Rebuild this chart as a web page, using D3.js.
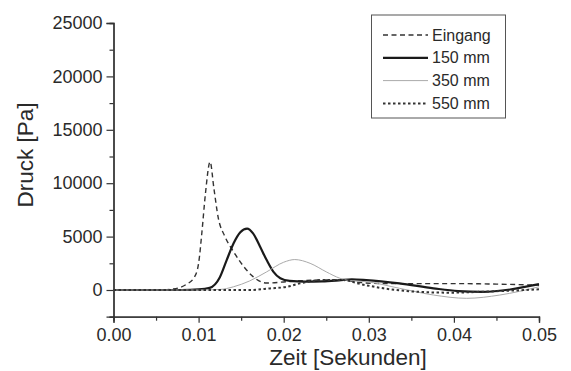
<!DOCTYPE html>
<html><head><meta charset="utf-8">
<script src="https://cdn.jsdelivr.net/npm/d3@7"></script>
<style>
html,body{margin:0;padding:0;background:#fff;}
svg{display:block;font-family:"Liberation Sans",Arial,sans-serif;}
</style></head>
<body><svg id="chart" width="571" height="371"></svg>
<script>
// ---- data ----
const xTicks = [0, 0.01, 0.02, 0.03, 0.04, 0.05];
const yTicks = [0, 5000, 10000, 15000, 20000, 25000];
const seriesNames = ["Eingang", "150 mm", "350 mm", "550 mm"];

const eingangT = [0, 0.005, 0.007, 0.0085, 0.0095, 0.0100, 0.0104, 0.0108, 0.01135, 0.0118, 0.0123, 0.0131, 0.0141, 0.0153, 0.0164, 0.018, 0.0204, 0.024, 0.0266, 0.029, 0.032, 0.036, 0.04, 0.045, 0.05];
const eingangP = [0, 0, 100, 500, 1200, 2500, 5500, 9000, 12000, 9500, 6800, 5000, 3600, 2200, 1250, 650, 780, 930, 930, 700, 600, 600, 600, 550, 450];

const mm150T = [0, 0.008, 0.010, 0.0113, 0.0125, 0.0133, 0.0141, 0.0149, 0.0157, 0.0164, 0.0172, 0.018, 0.0188, 0.0196, 0.0207, 0.0225, 0.0245, 0.0265, 0.028, 0.0297, 0.0336, 0.0376, 0.0405, 0.0434, 0.0466, 0.05];
const mm150P = [0, 0, 50, 200, 1200, 2800, 4350, 5400, 5750, 5300, 4100, 2800, 1700, 1100, 850, 780, 800, 900, 1000, 930, 620, 160, -100, -170, 50, 550];

const mm350T = [0, 0.010, 0.0125, 0.0141, 0.016, 0.018, 0.020, 0.0213, 0.0231, 0.025, 0.0266, 0.0278, 0.0297, 0.0336, 0.0376, 0.0415, 0.0454, 0.05];
const mm350P = [0, 0, 50, 300, 850, 1700, 2600, 2850, 2500, 1700, 1100, 870, 780, 160, -470, -780, -470, 300];

const mm550T = [0, 0.012, 0.016, 0.0184, 0.0204, 0.0219, 0.0246, 0.027, 0.029, 0.0317, 0.0356, 0.0395, 0.0434, 0.05];
const mm550P = [0, 0, 0, 150, 300, 620, 930, 930, 560, 160, -160, -250, -160, 60];

// ---- layout ----
const svg = d3.select("#chart");
const x = d3.scaleLinear().domain([0, 0.05]).range([113.5, 539]);
const y = d3.scaleLinear().domain([-2500, 25000]).range([316.7, 23]);
const axisColor = "#333";

const series = [
  {name: seriesNames[0], t: eingangT, p: eingangP, color: "#333", width: 1.4, dash: "5,3.5"},
  {name: seriesNames[1], t: mm150T, p: mm150P, color: "#1a1a1a", width: 2.2, dash: null},
  {name: seriesNames[2], t: mm350T, p: mm350P, color: "#aaa", width: 1, dash: null},
  {name: seriesNames[3], t: mm550T, p: mm550P, color: "#333", width: 2, dash: "2.5,2.5"}
];

// axes
const yAxis = d3.axisLeft(y).tickValues(yTicks).tickSize(7).tickPadding(4).tickFormat(d3.format("d"));
const yMinor = d3.axisLeft(y).tickValues(d3.range(-2500, 25001, 2500).filter(v => !yTicks.includes(v))).tickSize(4).tickFormat("");
const xAxis = d3.axisBottom(x).tickValues(xTicks).tickSize(6).tickPadding(6).tickFormat(d3.format(".2f"));
const xMinor = d3.axisBottom(x).tickValues([0.005, 0.015, 0.025, 0.035, 0.045]).tickSize(4).tickFormat("");

function style(g) {
  g.select(".domain").attr("stroke", axisColor).attr("stroke-width", 1.3);
  g.selectAll(".tick line").attr("stroke", axisColor).attr("stroke-width", 1.2);
  g.selectAll(".tick text").attr("fill", "#2a2a2a").style("font-size", "18px").style("font-family", "Liberation Sans, Arial, sans-serif");
}

svg.append("g").attr("transform", `translate(${x(0)},0)`).call(yMinor).call(style);
svg.append("g").attr("transform", `translate(${x(0)},0)`).call(yAxis).call(style);
svg.append("g").attr("transform", `translate(0,${y(-2500)})`).call(xMinor).call(style);
svg.append("g").attr("transform", `translate(0,${y(-2500)})`).call(xAxis).call(style);

// lines
const line = d3.line().x(d => x(d[0])).y(d => y(d[1])).curve(d3.curveMonotoneX);
series.forEach(s => {
  const pts = s.t.map((t, i) => [t, s.p[i]]);
  svg.append("path").datum(pts).attr("d", line)
    .attr("fill", "none").attr("stroke", s.color).attr("stroke-width", s.width)
    .attr("stroke-dasharray", s.dash).attr("stroke-linejoin", "round");
});

// axis titles
svg.append("text").attr("x", 348).attr("y", 365).attr("text-anchor", "middle")
  .style("font-size", "22.5px").attr("fill", "#2a2a2a").text("Zeit [Sekunden]");
svg.append("text").attr("transform", "translate(33,155) rotate(-90)").attr("text-anchor", "middle")
  .style("font-size", "22.5px").attr("fill", "#2a2a2a").text("Druck [Pa]");

// legend
const lg = svg.append("g");
lg.append("rect").attr("x", 371.5).attr("y", 15).attr("width", 134).attr("height", 103)
  .attr("fill", "#fff").attr("stroke", "#555").attr("stroke-width", 1);
series.forEach((s, i) => {
  const cy = 35 + i * 22.8;
  lg.append("line").attr("x1", 383).attr("x2", 428).attr("y1", cy).attr("y2", cy)
    .attr("stroke", s.color).attr("stroke-width", s.width).attr("stroke-dasharray", s.dash);
  lg.append("text").attr("x", 432).attr("y", cy).attr("dy", "0.35em")
    .style("font-size", "16px").attr("fill", "#2a2a2a").text(s.name);
});
</script></body></html>
